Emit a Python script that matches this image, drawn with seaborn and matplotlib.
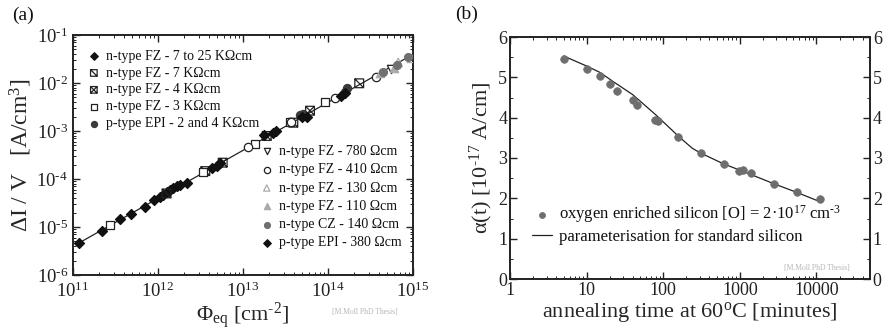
import numpy as np
import matplotlib
matplotlib.use("Agg")
import matplotlib.pyplot as plt
import matplotlib.ticker as mticker
from matplotlib.path import Path
import seaborn as sns

# ---------------- panel (a): leakage current vs fluence ----------------
fz_7to25_phi = [1.19e11, 2.18e11, 3.57e11, 4.78e11, 7.0e11, 8.98e11, 1.06e12, 1.15e12,
                1.29e12, 1.38e12, 1.52e12, 1.67e12, 1.82e12, 2.18e12]
fz_7to25_di = [4.7e-6, 8.4e-6, 1.45e-5, 1.86e-5, 2.57e-5, 3.6e-5, 4.27e-5, 4.64e-5,
               5.43e-5, 5.9e-5, 6.4e-5, 6.98e-5, 7.5e-5, 8.4e-5]
fz_7k_phi = [1.26e12, 3.6e12, 1.9e13, 3.91e13, 2.33e14]
fz_7k_di = [5.0e-5, 1.46e-4, 7.87e-4, 1.49e-3, 9.86e-3]
fz_4k_phi = [5.77e12, 6.14e13]
fz_4k_di = [2.19e-4, 2.65e-3]
fz_3k_phi = [2.72e11, 3.4e12, 1.4e13, 3.57e13, 9.22e13]
fz_3k_di = [1.1e-5, 1.43e-4, 5.28e-4, 1.54e-3, 3.96e-3]
epi_2k4k_phi = [4.68e13, 5.1e13, 1.58e14, 1.66e14]
epi_2k4k_di = [2.15e-3, 2.3e-3, 6.6e-3, 7.76e-3]
fz_780_phi = [5.47e14]
fz_780_di = [1.96e-2]
fz_410_phi = [1.16e13, 3.64e13, 1.21e14, 3.67e14]
fz_410_di = [4.71e-4, 1.56e-3, 4.8e-3, 1.31e-2]
fz_130_phi = [6.7e14, 9.6e14]
fz_130_di = [2.7e-2, 3.25e-2]
fz_110_phi = [4.1e14, 6.03e14]
fz_110_di = [1.59e-2, 2.08e-2]
cz_140_phi = [4.47e14, 6.4e14, 8.81e14]
cz_140_di = [1.66e-2, 2.37e-2, 3.55e-2]
epi_380_phi = [4.28e12, 4.9e12, 5.36e12, 1.78e13, 2.28e13, 2.43e13, 4.9e13, 5.61e13, 1.44e14, 1.58e14]
epi_380_di = [1.67e-4, 1.89e-4, 2.12e-4, 8.1e-4, 9.3e-4, 1.01e-3, 1.98e-3, 1.93e-3, 5.4e-3, 6.1e-3]
fit_phi = [1.19e11, 1.0e15]
fit_di = [4.7e-6, 3.95e-2]

# ---------------- panel (b): annealing of damage parameter ----------------
anneal_t = [5, 10, 15, 20, 25, 40, 45, 78, 85, 157, 310, 620, 980, 1100, 1380, 2770, 5600, 11000]
anneal_alpha = [5.45, 5.21, 5.04, 4.84, 4.67, 4.44, 4.32, 3.95, 3.92, 3.51, 3.12, 2.85,
                2.69, 2.70, 2.64, 2.36, 2.15, 1.98]
param_t = [5, 10, 15, 22, 40, 80, 160, 240, 310, 620, 1000, 2800, 5500, 11000]
param_alpha = [5.53, 5.28, 5.12, 4.90, 4.57, 4.07, 3.53, 3.24, 3.12, 2.85, 2.70, 2.36, 2.15, 1.92]

sns.set_theme(style="ticks")
plt.rcParams.update({
    "font.family": ["Liberation Serif", "DejaVu Serif"],
    "mathtext.fontset": "custom",
    "mathtext.rm": "Liberation Serif",
    "mathtext.it": "Liberation Serif:italic",
    "mathtext.bf": "Liberation Serif:bold",
    "axes.linewidth": 1.4,
    "axes.edgecolor": "#222222",
    "text.color": "#111111",
    "xtick.color": "#222222",
    "ytick.color": "#222222",
})

fig = plt.figure(figsize=(8.86, 3.30), dpi=100)
axa = fig.add_axes([73 / 886, 1 - 275 / 330, 340 / 886, 240 / 330])
axb = fig.add_axes([510 / 886, 1 - 279 / 330, 360 / 886, 242 / 330])

# custom open-square markers with diagonals
M, L, C = Path.MOVETO, Path.LINETO, Path.CLOSEPOLY
sq_slash = Path([(-1, -1), (1, -1), (1, 1), (-1, 1), (-1, -1), (-1, 1), (1, -1)],
                [M, L, L, L, C, M, L])
sq_cross = Path([(-1, -1), (1, -1), (1, 1), (-1, 1), (-1, -1), (-1, 1), (1, -1), (-1, -1), (1, 1)],
                [M, L, L, L, C, M, L, M, L])


def decade_label(v, pos):
    e = int(round(np.log10(v)))
    if e < 0:
        return "10$^{\\text{-}%d}$" % (-e)
    return "10$^{%d}$" % e


axa.set_xscale("log")
axa.set_yscale("log")
sns.lineplot(x=fit_phi, y=fit_di, ax=axa, color="#222222", lw=0.9, legend=False)


def pts(ax, x, y, label, marker, s, fc, ec, lw=0.9):
    sns.scatterplot(x=x, y=y, ax=ax, marker=marker, s=s, color=ec, facecolor=fc,
                    edgecolor=ec, linewidth=lw, label=label, legend=False, zorder=3)


pts(axa, fz_7to25_phi, fz_7to25_di, "n-type FZ - 7 to 25 KΩcm", "D", 26, "#111111", "#111111")
pts(axa, fz_7k_phi, fz_7k_di, "n-type FZ - 7 KΩcm", sq_slash, 40, "none", "#222222")
pts(axa, fz_4k_phi, fz_4k_di, "n-type FZ - 4 KΩcm", sq_cross, 40, "none", "#222222")
pts(axa, fz_3k_phi, fz_3k_di, "n-type FZ - 3 KΩcm", "s", 40, "white", "#222222")
pts(axa, epi_2k4k_phi, epi_2k4k_di, "p-type EPI - 2 and 4 KΩcm", "o", 34, "#3a3a3a", "#3a3a3a")
pts(axa, fz_780_phi, fz_780_di, "n-type FZ - 780 Ωcm", "v", 36, "white", "#222222")
pts(axa, fz_410_phi, fz_410_di, "n-type FZ - 410 Ωcm", "o", 36, "white", "#222222")
pts(axa, fz_130_phi, fz_130_di, "n-type FZ - 130 Ωcm", "^", 36, "none", "#aaaaaa")
pts(axa, fz_110_phi, fz_110_di, "n-type FZ - 110 Ωcm", "^", 36, "#aaaaaa", "#aaaaaa")
pts(axa, cz_140_phi, cz_140_di, "n-type CZ - 140 Ωcm", "o", 32, "#707070", "#707070")
pts(axa, epi_380_phi, epi_380_di, "p-type EPI - 380 Ωcm", "D", 26, "#111111", "#111111")

axa.set_xlim(1e11, 1e15)
axa.set_ylim(1e-6, 1e-1)
axa.xaxis.set_major_locator(mticker.LogLocator(base=10, numticks=10))
axa.xaxis.set_minor_locator(mticker.LogLocator(base=10, subs=np.arange(2, 10), numticks=10))
axa.yaxis.set_major_locator(mticker.LogLocator(base=10, numticks=10))
axa.yaxis.set_minor_locator(mticker.LogLocator(base=10, subs=np.arange(2, 10), numticks=10))
axa.xaxis.set_major_formatter(mticker.FuncFormatter(decade_label))
axa.yaxis.set_major_formatter(mticker.FuncFormatter(decade_label))
axa.xaxis.set_minor_formatter(mticker.NullFormatter())
axa.yaxis.set_minor_formatter(mticker.NullFormatter())
axa.tick_params(which="both", direction="in", top=True, right=True, labelsize=13.5)
axa.tick_params(axis="x", pad=5)
axa.tick_params(which="major", length=5, width=1.0)
axa.tick_params(which="minor", length=2.5, width=0.7)
axa.set_xlabel("Φ$_{\\rm eq}$ [cm$^{\\text{-}2}$]", fontsize=16, labelpad=-1)
axa.set_ylabel("ΔI / V   [A/cm$^3$]", fontsize=17, labelpad=2)

h, l = axa.get_legend_handles_labels()
leg1 = axa.legend(h[:5], l[:5], loc="upper left", bbox_to_anchor=(0.0, 0.985), frameon=False,
                  fontsize=10, handletextpad=0.2, labelspacing=0.28, borderaxespad=0.4,
                  handlelength=1.4, markerscale=0.75)
axa.add_artist(leg1)
axa.legend(h[5:], l[5:], loc="lower right", bbox_to_anchor=(1.0, 0.06), frameon=False,
           fontsize=10, handletextpad=0.2, labelspacing=0.38, borderaxespad=0.4,
           handlelength=1.4, markerscale=0.75)

fig.text(12 / 886, 1 - 15 / 330, "(a)", fontsize=14, va="center", ha="left")
fig.text(365 / 886, 1 - 312 / 330, "[M.Moll PhD Thesis]", fontsize=5.5, color="#b5b5b5",
         ha="center", va="center")

# ---------------- panel (b) drawing ----------------
axb.set_xscale("log")
sns.scatterplot(x=anneal_t, y=anneal_alpha, ax=axb, marker="o", s=30, color="#6e6e6e",
                edgecolor="#6e6e6e", linewidth=0.5, zorder=3,
                label="oxygen enriched silicon [O] = 2·10$^{17}$ cm$^{\\text{-}3}$", legend=False)
sns.lineplot(x=param_t, y=param_alpha, ax=axb, color="#222222", lw=0.9,
             label="parameterisation for standard silicon", legend=False)
axb.set_xlim(1, 5e4)
axb.set_ylim(0, 6)
axb.xaxis.set_major_locator(mticker.LogLocator(base=10, numticks=10))
axb.xaxis.set_minor_locator(mticker.LogLocator(base=10, subs=np.arange(2, 10), numticks=10))
axb.xaxis.set_major_formatter(mticker.FuncFormatter(lambda v, p: f"{v:.0f}"))
axb.xaxis.set_minor_formatter(mticker.NullFormatter())
axb.yaxis.set_major_locator(mticker.MultipleLocator(1))
axb.yaxis.set_minor_locator(mticker.MultipleLocator(0.5))
axb.yaxis.set_major_formatter(mticker.FuncFormatter(lambda v, p: f"{v:.0f}"))
axb.tick_params(which="both", direction="in", top=True, right=True, labelright=True,
                labelsize=13, pad=2)
axb.tick_params(which="major", length=5, width=1.0)
axb.tick_params(which="minor", length=2.5, width=0.7)
axb.set_xlabel("annealing time at 60$^{\\rm o}$C [minutes]", fontsize=16, labelpad=1)
axb.set_ylabel("α(t) [10$^{\\text{-}17}$ A/cm]", fontsize=16, labelpad=2)
hb, lb = axb.get_legend_handles_labels()
axb.legend(hb, lb, loc="lower left", bbox_to_anchor=(0.02, 0.08), frameon=False, fontsize=12,
           handletextpad=0.4, labelspacing=0.2, handlelength=1.2, markerscale=0.8)

fig.text(455 / 886, 1 - 14 / 330, "(b)", fontsize=14, va="center", ha="left")
fig.text(817 / 886, 1 - 268 / 330, "[M.Moll PhD Thesis]", fontsize=5.5, color="#b5b5b5",
         ha="center", va="center")

fig.savefig("out.png", dpi=100)
